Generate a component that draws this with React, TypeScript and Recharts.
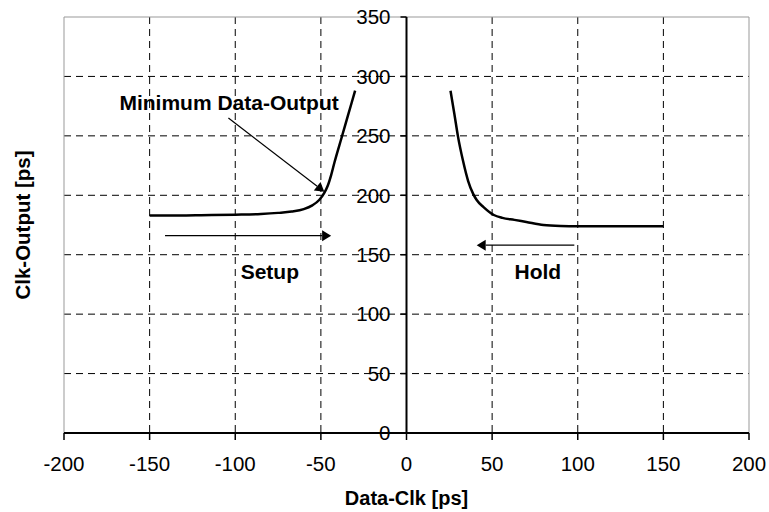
import React from 'react';
import {
  LineChart,
  Line,
  XAxis,
  YAxis,
  CartesianGrid,
  ReferenceLine,
  ReferenceDot,
} from 'recharts';

const xTicks = [-200, -150, -100, -50, 0, 50, 100, 150, 200];
const yTicks = [0, 50, 100, 150, 200, 250, 300, 350];
const gridX = [-150, -100, -50, 50, 100, 150];
const gridY = [50, 100, 150, 200, 250, 300];

const setupCurve = [
  { x: -150, y: 183 },
  { x: -130, y: 183 },
  { x: -120, y: 183.2 },
  { x: -100, y: 183.7 },
  { x: -85, y: 184.3 },
  { x: -75, y: 185.2 },
  { x: -67, y: 186.3 },
  { x: -60, y: 188.3 },
  { x: -55, y: 191.5 },
  { x: -51, y: 196 },
  { x: -48, y: 202 },
  { x: -46, y: 208 },
  { x: -44, y: 217 },
  { x: -42, y: 228 },
  { x: -38, y: 248 },
  { x: -34, y: 268 },
  { x: -30, y: 288 },
];

const holdCurve = [
  { x: 25.7, y: 288 },
  { x: 28, y: 268 },
  { x: 30, y: 250 },
  { x: 33, y: 229 },
  { x: 36, y: 212 },
  { x: 39, y: 201 },
  { x: 41, y: 196 },
  { x: 45, y: 190 },
  { x: 51, y: 183.4 },
  { x: 56, y: 181 },
  { x: 63, y: 179.3 },
  { x: 70, y: 177.5 },
  { x: 80, y: 175 },
  { x: 90, y: 174.2 },
  { x: 100, y: 174 },
  { x: 120, y: 174 },
  { x: 150, y: 174 },
];

const setupArrow = [
  { x: -141, y: 166 },
  { x: -44, y: 166 },
];
const holdArrow = [
  { x: 98, y: 158 },
  { x: 41, y: 158 },
];
const minArrow = [
  { x: -104, y: 265 },
  { x: -48, y: 203 },
];

const annotations = [
  { text: 'Minimum Data-Output', x: -103.6, y: 278 },
  { text: 'Setup', x: -79.8, y: 135.5 },
  { text: 'Hold', x: 76.7, y: 136 },
];

const FONT = '"Liberation Sans", Arial, sans-serif';

const ArrowShape = (props: any) => {
  const { x1, y1, x2, y2 } = props;
  const ang = Math.atan2(y2 - y1, x2 - x1);
  const L = 9;
  const W = 5.5;
  const bx = x2 - L * Math.cos(ang);
  const by = y2 - L * Math.sin(ang);
  const p1 = [bx + W * Math.sin(ang), by - W * Math.cos(ang)];
  const p2 = [bx - W * Math.sin(ang), by + W * Math.cos(ang)];
  return (
    <g>
      <line x1={x1} y1={y1} x2={bx} y2={by} stroke="#000" strokeWidth={1.2} />
      <polygon points={`${x2},${y2} ${p1[0]},${p1[1]} ${p2[0]},${p2[1]}`} fill="#000" />
    </g>
  );
};

const YTitle = (props: any) => {
  const vb = props.viewBox || { x: 0, y: 0, width: 0, height: 0 };
  const cx = vb.x + 23;
  const cy = vb.y + vb.height / 2;
  return (
    <text
      x={cx}
      y={cy}
      transform={`rotate(-90, ${cx}, ${cy})`}
      textAnchor="middle"
      dy="0.355em"
      fontFamily={FONT}
      fontSize={20.5}
      fontWeight="bold"
      fill="#000"
    >
      Clk-Output [ps]
    </text>
  );
};

export default function App() {
  return (
    <div style={{ position: 'absolute', left: 0, top: 0, background: '#fff' }}>
      <LineChart
        width={769}
        height={512}
        margin={{ top: 17, right: 20, left: 0, bottom: 0 }}
        style={{ fontFamily: FONT }}
      >
        <CartesianGrid
          stroke="#000"
          strokeDasharray="7 5"
          horizontal={false}
          verticalValues={gridX}
        />
        {gridY.map((v) => (
          <ReferenceLine
            key={`gy${v}`}
            y={v}
            stroke="#000"
            strokeWidth={1}
            strokeDasharray="7 5"
            ifOverflow="visible"
          />
        ))}
        <XAxis
          type="number"
          dataKey="x"
          domain={[-200, 200]}
          ticks={xTicks}
          allowDataOverflow
          height={79}
          axisLine={{ stroke: '#000', strokeWidth: 2 }}
          tickLine={{ stroke: '#000', strokeWidth: 1.5 }}
          tickSize={7}
          tickMargin={16}
          tick={{ fill: '#000', fontSize: 20.5, fontFamily: FONT }}
          label={{
            value: 'Data-Clk [ps]',
            position: 'insideBottom',
            offset: 7,
            style: { fontWeight: 'bold', fontSize: 20, fill: '#000', fontFamily: FONT },
          }}
        />
        <YAxis
          type="number"
          domain={[0, 350]}
          ticks={yTicks}
          allowDataOverflow
          width={64}
          axisLine={false}
          tickLine={false}
          tick={false}
          label={{ content: YTitle }}
        />
        <ReferenceLine x={-200} stroke="#999" strokeWidth={1} ifOverflow="visible" />
        <ReferenceLine x={200} stroke="#999" strokeWidth={1} ifOverflow="visible" />
        <ReferenceLine y={350} stroke="#999" strokeWidth={1} ifOverflow="visible" />
        <ReferenceLine x={0} stroke="#000" strokeWidth={2} ifOverflow="visible" />
        {yTicks.map((v) => (
          <ReferenceDot
            key={`yt${v}`}
            x={0}
            y={v}
            r={1}
            ifOverflow="visible"
            shape={(p: any) => (
              <g>
                <line x1={p.cx - 6} y1={p.cy} x2={p.cx} y2={p.cy} stroke="#000" strokeWidth={1.5} />
                <text
                  x={p.cx - 16}
                  y={p.cy}
                  dy="0.355em"
                  textAnchor="end"
                  fontFamily={FONT}
                  fontSize={20.5}
                  fill="#000"
                >
                  {v}
                </text>
              </g>
            )}
          />
        ))}
        <Line
          data={setupCurve}
          dataKey="y"
          type="monotone"
          stroke="#000"
          strokeWidth={2.5}
          dot={false}
          isAnimationActive={false}
        />
        <Line
          data={holdCurve}
          dataKey="y"
          type="monotone"
          stroke="#000"
          strokeWidth={2.5}
          dot={false}
          isAnimationActive={false}
        />
        <ReferenceLine segment={setupArrow} shape={ArrowShape} ifOverflow="visible" />
        <ReferenceLine segment={holdArrow} shape={ArrowShape} ifOverflow="visible" />
        <ReferenceLine segment={minArrow} shape={ArrowShape} ifOverflow="visible" />
        {annotations.map((a) => (
          <ReferenceDot
            key={a.text}
            x={a.x}
            y={a.y}
            r={1}
            ifOverflow="visible"
            shape={(p: any) => (
              <text
                x={p.cx}
                y={p.cy}
                dy="0.355em"
                textAnchor="middle"
                fontFamily={FONT}
                fontSize={21}
                fontWeight="bold"
                fill="#000"
              >
                {a.text}
              </text>
            )}
          />
        ))}
      </LineChart>
    </div>
  );
}
